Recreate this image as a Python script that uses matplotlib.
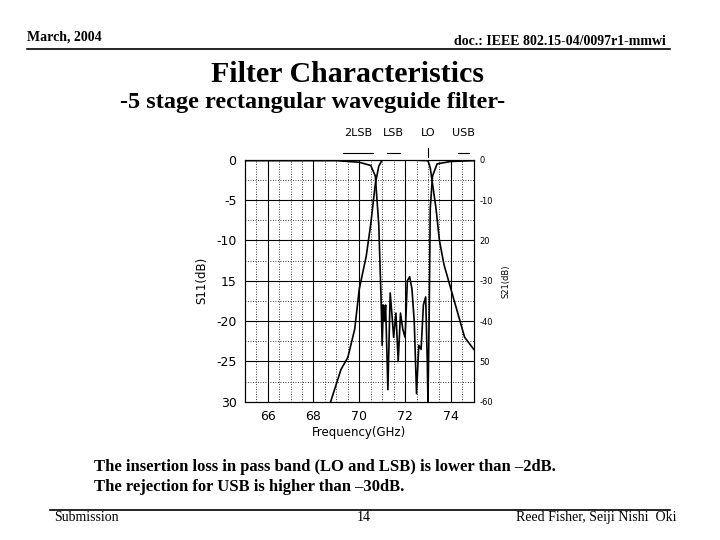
import numpy as np
import matplotlib
matplotlib.use("Agg")
import matplotlib.pyplot as plt
from matplotlib.transforms import blended_transform_factory

s11_f = [65, 66, 68, 69, 70, 70.5, 70.7, 70.85, 70.95, 71.0, 71.05, 71.1, 71.15, 71.25, 71.35, 71.45, 71.5, 71.6, 71.7, 71.8, 71.9, 72.0, 72.1, 72.2, 72.3, 72.4, 72.5, 72.6, 72.7, 72.8, 72.9, 72.97, 73.0, 73.05, 73.1, 73.2, 73.4, 74, 75]
s11_db = [-0.1, -0.1, -0.1, -0.1, -0.3, -0.7, -2, -8, -17, -23, -18, -20, -18, -28.5, -16.5, -20, -22, -19, -25, -19, -21, -22, -15, -14.5, -16, -20, -29, -23, -23.5, -18, -17, -25, -30, -20, -6, -2, -0.5, -0.2, -0.1]
s21_f = [68.75, 69.2, 69.5, 69.8, 70.0, 70.3, 70.5, 70.7, 70.85, 71.0, 72.0, 73.0, 73.1, 73.2, 73.35, 73.5, 73.7, 74.0, 74.3, 74.6, 75.0]
s21_db = [-60, -52, -49, -42, -32, -24, -16, -6, -1.6, 0, 0, -0.2, -2, -6, -12, -20, -26, -32, -38, -44, -47]
bands = ["2LSB", "LSB", "LO", "USB"]
band_lo = [69.3, 71.2, 73.0, 74.3]
band_hi = [70.6, 71.8, 73.0, 74.8]

fig = plt.figure(figsize=(7.2, 5.4), dpi=100)
serif = "Liberation Serif"
fig.text(0.038, 0.925, "March, 2004", family=serif, weight="bold", fontsize=10)
fig.text(0.925, 0.917, "doc.: IEEE 802.15-04/0097r1-mmwi", family=serif, weight="bold", fontsize=10, ha="right")
fig.add_artist(plt.Line2D([0.038, 0.93], [0.91, 0.91], color="black", lw=1.2))
fig.text(0.483, 0.848, "Filter Characteristics", family=serif, weight="bold", fontsize=21.5, ha="center")
fig.text(0.434, 0.8, "-5 stage rectangular waveguide filter-", family=serif, weight="bold", fontsize=17.5, ha="center")
fig.text(0.13, 0.09, "The insertion loss in pass band (LO and LSB) is lower than \u20132dB.\nThe rejection for USB is higher than \u201330dB.", family=serif, weight="bold", fontsize=12, linespacing=1.35)
fig.add_artist(plt.Line2D([0.07, 0.93], [0.055, 0.055], color="black", lw=1.2))
fig.text(0.075, 0.035, "Submission", family=serif, fontsize=10)
fig.text(0.505, 0.035, "14", family=serif, fontsize=10, ha="center")
fig.text(0.94, 0.035, "Reed Fisher, Seiji Nishi  Oki", family=serif, fontsize=10, ha="right")

ax = fig.add_axes([0.340, 0.256, 0.318, 0.448])
ax.set_xlim(65, 75)
ax.set_ylim(-30, 0)
for x in [66, 68, 70, 72, 74]:
    ax.axvline(x, color="black", lw=0.8)
for x in [65.5, 66.5, 67, 67.5, 68.5, 69, 69.5, 70.5, 71, 71.5, 72.5, 73, 73.5, 74.5]:
    ax.axvline(x, color="black", lw=0.6, ls=(0, (1, 2)))
for y in [-5, -10, -15, -20, -25]:
    ax.axhline(y, color="black", lw=0.8)
for y in [-2.5, -7.5, -12.5, -17.5, -22.5, -27.5]:
    ax.axhline(y, color="black", lw=0.6, ls=(0, (1, 2)))
ax.plot(s11_f, s11_db, color="black", lw=1.2)
ax.set_xticks([66, 68, 70, 72, 74])
ax.set_yticks([0, -5, -10, -15, -20, -25, -30])
ax.set_yticklabels(["0", "-5", "-10", "15", "-20", "-25", "30"])
ax.tick_params(length=0, labelsize=9, pad=6)
ax.set_xlabel("Frequency(GHz)", fontsize=8.5, labelpad=2)
ax.set_ylabel("S11(dB)", fontsize=8.5, labelpad=6)

ax2 = ax.twinx()
ax2.set_ylim(-60, 0)
ax2.plot(s21_f, s21_db, color="black", lw=1.2)
ax2.set_yticks([0, -10, -20, -30, -40, -50, -60])
ax2.set_yticklabels(["0", "-10", "20", "-30", "-40", "50", "-60"])
ax2.tick_params(length=0, labelsize=6, pad=4)
ax2.set_ylabel("S21(dB)", fontsize=6, labelpad=6)

tr = blended_transform_factory(ax.transData, ax.transAxes)
for name, lo, hi in zip(bands, band_lo, band_hi):
    ax.text((lo + hi) / 2, 1.10, name, transform=tr, ha="center", fontsize=8)
    if lo == hi:
        ax.plot([lo, lo], [1.01, 1.05], transform=tr, color="black", lw=0.8, clip_on=False)
    else:
        ax.plot([lo, hi], [1.03, 1.03], transform=tr, color="black", lw=0.8, clip_on=False)

fig.savefig("out.png", dpi=100)
